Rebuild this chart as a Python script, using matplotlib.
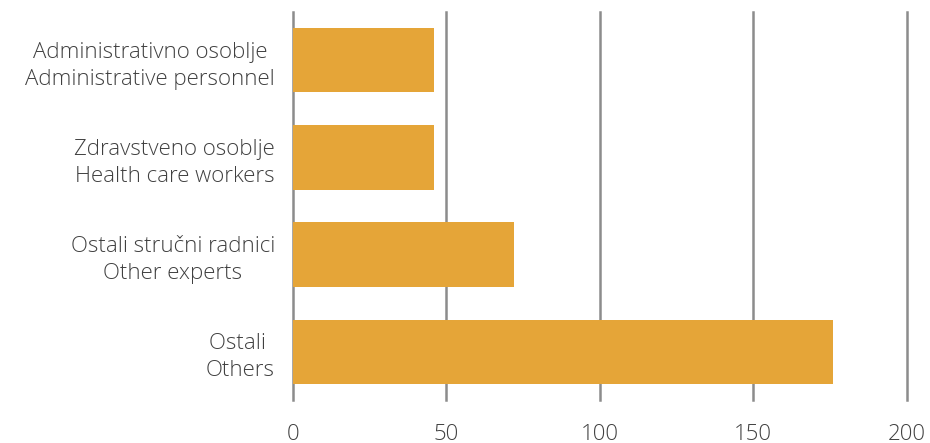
import matplotlib.pyplot as plt
import numpy as np

CATEGORIES = [
    "Administrativno osoblje\nAdministrative personnel",
    "Zdravstveno osoblje\nHealth care workers",
    "Ostali stručni radnici\nOther experts",
    "Ostali \nOthers",
]
VALUES = [46, 46, 72, 176]
X_TICKS = [0, 50, 100, 150, 200]

BAR_COLOR = "#E5A538"
GRID_COLOR = "#8C8C8C"
TEXT_COLOR = "#404040"

plt.rcParams["font.family"] = ["Open Sans", "DejaVu Sans"]


def main():
    fig = plt.figure(figsize=(9.3, 4.43), dpi=100)
    ax = fig.add_axes([0.315, 0.097, 0.660, 0.876])

    y = np.arange(len(CATEGORIES))
    ax.barh(y, VALUES, height=0.66, color=BAR_COLOR, zorder=3)

    ax.set_ylim(len(CATEGORIES) - 0.5, -0.5)
    ax.set_xlim(0, 200)
    ax.set_xticks(X_TICKS)
    ax.set_xticklabels([str(t) for t in X_TICKS], fontsize=16,
                       color=TEXT_COLOR, fontweight="light")
    ax.set_yticks(y)
    ax.set_yticklabels(CATEGORIES, fontsize=16, color=TEXT_COLOR,
                       fontweight="light", multialignment="center",
                       linespacing=1.35)
    ax.tick_params(axis="both", length=0)
    ax.tick_params(axis="y", pad=13)
    ax.tick_params(axis="x", pad=17)

    ax.grid(axis="x", color=GRID_COLOR, linewidth=1.8, zorder=1)
    for line in ax.get_xgridlines():
        line.set_clip_on(False)
    for s in ax.spines.values():
        s.set_visible(False)

    fig.savefig("out.png", dpi=100)


if __name__ == "__main__":
    main()
